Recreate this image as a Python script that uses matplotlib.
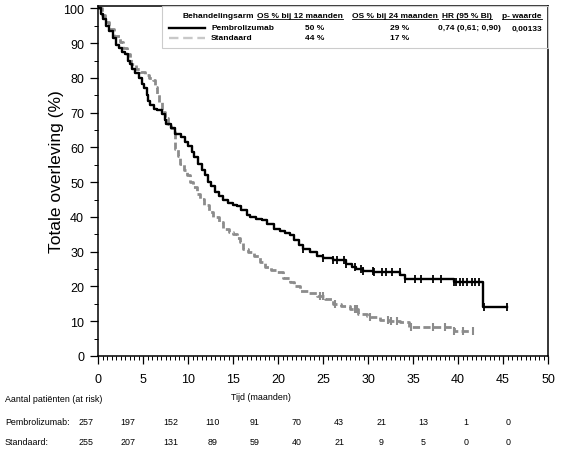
import numpy as np
import matplotlib
matplotlib.use("Agg")
import matplotlib.pyplot as plt
from matplotlib.ticker import MultipleLocator
from matplotlib.patches import Rectangle

plt.rcParams["font.family"] = ["Liberation Sans", "DejaVu Sans"]

# Kaplan-Meier steps (months, % alive)
pem_t = [0, 0.3, 0.6, 0.9, 1.2, 1.7, 2.0, 2.3, 2.7, 3.0, 3.3, 3.5, 3.8, 4.1, 4.5,
         4.85, 5.1, 5.4, 5.6, 5.8, 6.2, 6.5, 7.1, 7.4, 7.6, 8.1, 8.6, 9.2, 9.7,
         10.0, 10.4, 10.7, 11.1, 11.5, 11.9, 12.2, 12.6, 13.0, 13.4, 13.9, 14.4,
         15.0, 15.4, 15.9, 16.5, 16.9, 17.5, 18.2, 18.8, 19.5, 20.2, 20.8, 21.3,
         21.8, 22.3, 22.8, 23.5, 24.3, 25.0, 26.1, 27.6, 28.2, 28.7, 29.4, 30.6,
         33.6, 34.1, 39.5, 42.8, 45.4]
pem_s = [100, 98.5, 97, 95, 93.5, 91.4, 89.5, 88.5, 87.5, 87, 85, 84, 82.5, 81.3,
         80, 78.4, 77, 75, 73.5, 72.1, 71.2, 70.7, 69.7, 68, 66.9, 65.5, 64, 63,
         61.7, 60.5, 58.8, 57.3, 55.3, 53.5, 52, 50, 48.8, 47.3, 46, 44.8, 44,
         43.5, 43.3, 42, 40.5, 40, 39.5, 39, 38, 36.6, 36.1, 35.5, 34.7, 33.5, 32,
         30.8, 29.8, 28.9, 28.3, 27.5, 26.5, 25.6, 25.1, 24.6, 24.1, 23.3, 22.2,
         21.2, 14, 14]
pem_cens = [22.8, 25.0, 26.1, 26.5, 27.3, 27.6, 28.5, 29.2, 29.4, 30.5, 30.7,
            31.6, 32.0, 32.7, 33.5, 34.1, 35.2, 35.9, 37.2, 38.1, 39.5, 39.8,
            40.2, 40.6, 41.0, 41.5, 41.9, 42.3, 42.9, 45.4]

std_t = [0, 0.4, 0.8, 1.2, 1.8, 2.4, 2.8, 3.2, 3.5, 3.7, 4.2, 4.7, 5.2, 5.7, 6.1,
         6.3, 6.5, 6.8, 7.1, 7.4, 7.8, 8.1, 8.4, 8.5, 8.6, 8.9, 9.1, 9.5, 9.85,
         10.2, 10.6, 11.0, 11.3, 11.8, 12.3, 12.8, 13.4, 13.9, 14.5, 15.0, 15.4,
         15.8, 16.1, 16.7, 17.3, 18.0, 18.6, 19.2, 19.9, 20.5, 21.3, 21.8, 22.4,
         23.3, 24.3, 25.2, 26.1, 27.0, 28.0, 28.9, 29.9, 30.2, 31.3, 32.3, 33.6,
         34.5, 39.5, 41.7]
std_s = [100, 98, 96, 94, 92, 90.4, 88.5, 87, 85.5, 84.1, 82.5, 81.7, 80.8, 80,
         79.3, 77.5, 75.5, 73, 70.2, 68.5, 66.9, 65.5, 64.5, 62, 59.7, 57.5, 55.3,
         53.5, 52, 50, 48.5, 46.5, 45.2, 43.5, 41.4, 40, 38.5, 36.6, 35.6, 35, 34,
         32.8, 30.8, 30, 28.9, 27, 25.6, 24.8, 24.1, 22.5, 21.2, 20, 18.8, 18,
         17.4, 16.3, 15, 14.3, 13.5, 12.1, 11.6, 11.1, 10.4, 10.2, 9.7, 8.3, 7.3,
         7.3]
std_cens = [24.7, 25.0, 26.3, 28.5, 28.8, 30.2, 32.2, 32.6, 33.2, 34.8, 37.2,
            38.5, 39.6, 40.5, 41.7]

risk_labels = ["Pembrolizumab:", "Standaard:"]
risk_pem = [257, 197, 152, 110, 91, 70, 43, 21, 13, 1, 0]
risk_std = [255, 207, 131, 89, 59, 40, 21, 9, 5, 0, 0]

legend_head = ["Behandelingsarm", "OS % bij 12 maanden", "OS % bij 24 maanden",
               "HR (95 % BI)", "p- waarde"]
legend_pem = ["Pembrolizumab", "50 %", "29 %", "0,74 (0,61; 0,90)", "0,00133"]
legend_std = ["Standaard", "44 %", "17 %", "", ""]

W, H = 561, 464
fig = plt.figure(figsize=(W / 100, H / 100), dpi=100)


def fx(px):
    return px / W


def fy(py):
    return 1 - py / H


ax = fig.add_axes([fx(98), fy(357), fx(548) - fx(98), fy(6.5) - fy(357)])
gray = "#8c8c8c"


def step_val(ts, ss, t):
    i = np.searchsorted(ts, t, side="right") - 1
    return ss[max(i, 0)]


ax.step(std_t, std_s, where="post", color=gray, lw=2.0, dashes=(2.6, 1.2))
ax.step(pem_t, pem_s, where="post", color="black", lw=1.7)
ax.plot(std_cens, [step_val(std_t, std_s, t) for t in std_cens], ls="none",
        marker="|", ms=5.5, mew=1.5, color=gray)
ax.plot(pem_cens, [step_val(pem_t, pem_s, t) for t in pem_cens], ls="none",
        marker="|", ms=5.5, mew=1.3, color="black")

ax.set_xlim(0, 50)
ax.set_ylim(0, 100.86)
ax.xaxis.set_major_locator(MultipleLocator(5))
ax.xaxis.set_minor_locator(MultipleLocator(0.5))
ax.yaxis.set_major_locator(MultipleLocator(10))
ax.yaxis.set_minor_locator(MultipleLocator(5))
ax.tick_params(which="major", length=6, width=0.9, labelsize=9, pad=6)
ax.tick_params(which="minor", length=3, width=0.7)
ax.tick_params(axis="y", pad=4)
for sp in ax.spines.values():
    sp.set_linewidth(1.1)
ax.set_ylabel("Totale overleving (%)", fontsize=12.5)
ax.yaxis.set_label_coords(-0.075, 0.53)

# legend table in the top right
fig.add_artist(Rectangle((fx(162), fy(49)), fx(548) - fx(162), fy(6.5) - fy(49),
                         transform=fig.transFigure, fill=False,
                         edgecolor="#cccccc", lw=0.8))
fs = 6.0
head_x = [254, 257, 352, 442, 502]
head_ha = ["right", "left", "left", "left", "left"]
heads = []
for txt, x, ha in zip(legend_head, head_x, head_ha):
    t = fig.text(fx(x), fy(16), txt, fontsize=fs, fontweight="bold", ha=ha,
                 va="center")
    if txt != "Behandelingsarm":
        heads.append(t)

fig.canvas.draw()
rend = fig.canvas.get_renderer()
for t in heads:
    bb = t.get_window_extent(rend)
    fig.add_artist(plt.Line2D([bb.x0 / W, bb.x1 / W],
                              [(bb.y0 - 0.3) / H, (bb.y0 - 0.3) / H],
                              transform=fig.transFigure, color="black",
                              lw=0.6))

fig.add_artist(plt.Line2D([fx(169), fx(205)], [fy(29), fy(29)],
                          transform=fig.transFigure, color="black", lw=1.7))
fig.add_artist(plt.Line2D([fx(169), fx(205)], [fy(39), fy(39)],
                          transform=fig.transFigure, color="#c8c8c8", lw=1.7,
                          dashes=(4, 2)))
row_x = [211, 315, 400, 438, 512]
row_ha = ["left", "center", "center", "left", "left"]
for vals, y in [(legend_pem, 29), (legend_std, 39)]:
    for txt, x, ha in zip(vals, row_x, row_ha):
        fig.text(fx(x), fy(y), txt, fontsize=fs, fontweight="bold", ha=ha,
                 va="center")

# number at risk table
fs2 = 6.4
fig.text(fx(5), fy(400), "Aantal patiënten (at risk)", fontsize=fs2, va="center")
fig.text(fx(261), fy(398), "Tijd (maanden)", fontsize=fs2, ha="center",
         va="center")
for lab, vals, y in [(risk_labels[0], risk_pem, 423), (risk_labels[1], risk_std, 443)]:
    fig.text(fx(5), fy(y), lab, fontsize=fs2, va="center")
    for i, v in enumerate(vals):
        fig.text(fx(86 + 42.2 * i), fy(y), str(v), fontsize=fs2, ha="center",
                 va="center")

fig.savefig("out.png", dpi=100)
